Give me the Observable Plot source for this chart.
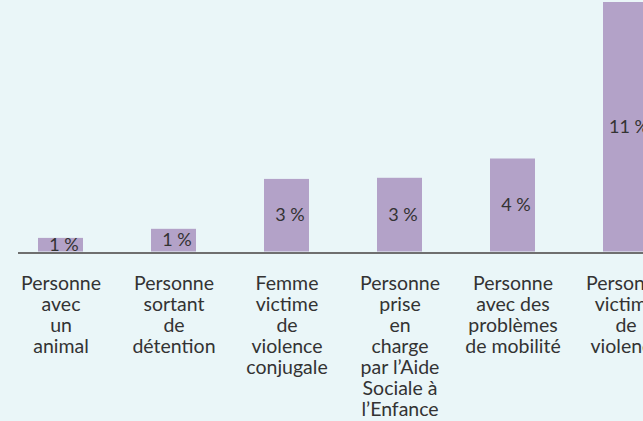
<!DOCTYPE html>
<html>
<head>
<meta charset="utf-8">
<script src="https://cdn.jsdelivr.net/npm/d3@7"></script>
<script src="https://cdn.jsdelivr.net/npm/@observablehq/plot@0.6"></script>
<style>
  html, body { margin: 0; padding: 0; background: #eaf6f8; }
  #chart { width: 643px; height: 421px; overflow: hidden; background: #eaf6f8; }
  #chart svg { display: block; max-width: none !important; }
</style>
</head>
<body>
<div id="chart"></div>
<script>
const categories = [
  "Personne avec un animal",
  "Personne sortant de détention",
  "Femme victime de violence conjugale",
  "Personne prise en charge par l'Aide Sociale à l'Enfance",
  "Personne avec des problèmes de mobilité",
  "Personne victime de violence"
];
const tickLabels = [
  "Personne\navec\nun\nanimal",
  "Personne\nsortant\nde\ndétention",
  "Femme\nvictime\nde\nviolence\nconjugale",
  "Personne\nprise\nen\ncharge\npar l’Aide\nSociale à\nl’Enfance",
  "Personne\navec des\nproblèmes\nde mobilité",
  "Personne\nvictime\nde\nviolence"
];
const values = [0.6, 1.0, 3.2, 3.25, 4.1, 11];
const valueLabels = ["1\u202F%", "1\u202F%", "3\u202F%", "3\u202F%", "4\u202F%", "11\u202F%"];

const data = categories.map((c, i) => ({category: c, value: values[i], label: valueLabels[i], tick: tickLabels[i]}));
const tickOf = new Map(data.map(d => [d.category, d.tick]));

const chart = Plot.plot({
  width: 700,
  height: 421,
  marginTop: 2,
  marginBottom: 169.5,
  marginLeft: 18,
  marginRight: 0,
  style: {background: "transparent", fontFamily: "Lato, 'Open Sans', sans-serif", color: "#333", maxWidth: "none"},
  x: {domain: categories, range: [2.95, 683.95], paddingInner: 0.6, paddingOuter: 0.3, label: null},
  y: {domain: [0, 11], axis: null},
  marks: [
    Plot.barY(data, {x: "category", y: "value", fill: "#b3a2c8"}),
    Plot.ruleY([0], {stroke: "#6f6f6f", strokeWidth: 2, dy: 1}),
    Plot.text(data, {x: "category", y: d => d.value / 2, text: "label", fontSize: 18, fill: "#333", dx: 3}),
    Plot.axisX({
      tickSize: 0,
      tickPadding: 23,
      tickFormat: c => tickOf.get(c),
      fontSize: 19.5,
      lineHeight: 1.08,
      fill: "#333"
    })
  ]
});
document.getElementById("chart").appendChild(chart);
</script>
</body>
</html>
